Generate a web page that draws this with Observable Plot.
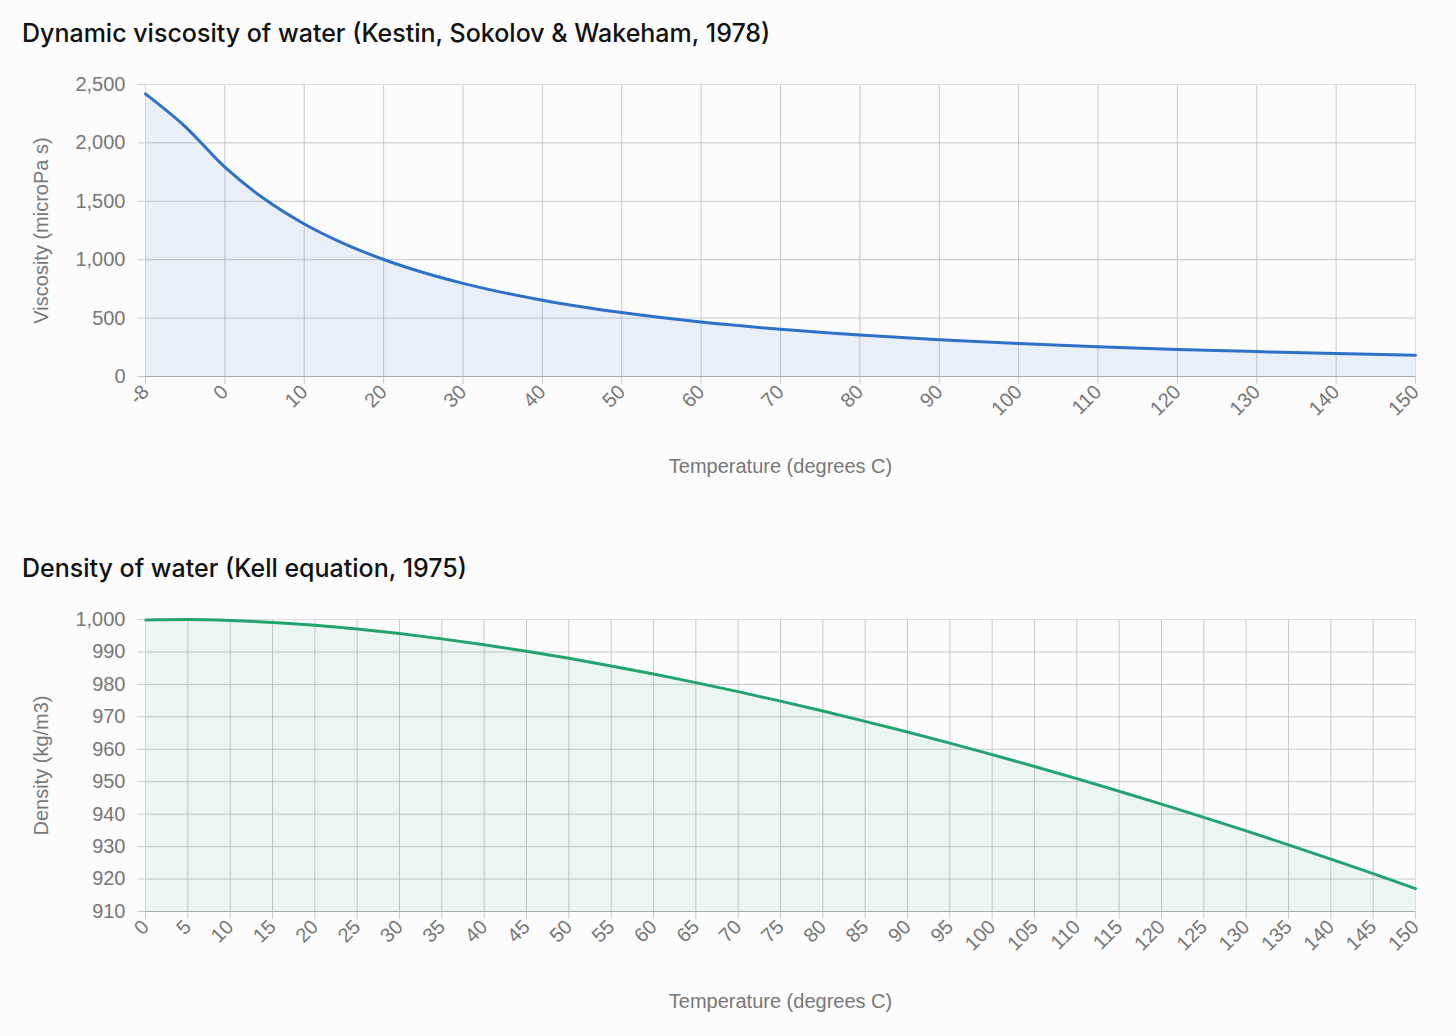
<!DOCTYPE html>
<html><head><meta charset="utf-8">
<script src="https://cdn.jsdelivr.net/npm/d3@7"></script>
<script src="https://cdn.jsdelivr.net/npm/@observablehq/plot@0.6"></script>
<style>
body{margin:0;background:#fcfcfc;width:1456px;height:1036px;position:relative;overflow:hidden}
.t{position:absolute;left:22px;font-family:Inter,"Noto Sans",sans-serif;font-size:25px;font-weight:500;color:#111}
.c{position:absolute;left:0}
svg text{font-size:18px}
svg g[aria-label$="label"] text{font-size:20px}
</style></head><body>
<div class="t" style="top:18px">Dynamic viscosity of water (Kestin, Sokolov &amp; Wakeham, 1978)</div>
<div class="c" id="c1" style="top:60px"></div>
<div class="t" style="top:553px">Density of water (Kell equation, 1975)</div>
<div class="c" id="c2" style="top:595px"></div>
<script>
const viscT = [-8,-4,0,5,10,15,20,25,30,40,50,60,70,80,90,100,110,120,130,140,150];
const viscV = [2420,2140,1792,1519,1306,1138,1002,890,797,653,547,466,404,355,315,282,255,232,213,196,182];
const viscTicks = [-8,0,10,20,30,40,50,60,70,80,90,100,110,120,130,140,150];
const densT = d3.range(0,151,5);
const densV = [999.84,999.97,999.70,999.10,998.21,997.05,995.65,994.03,992.22,990.21,988.04,985.69,983.20,980.55,977.76,974.84,971.79,968.61,965.31,961.89,958.35,954.70,950.95,947.08,943.11,939.03,934.84,930.55,926.16,921.66,917.06];

const idx = t => t < 0 ? (t + 8) / 8 : 1 + t / 10;
const font = "Liberation Sans, Arial, sans-serif";
const common = {width:1456, marginLeft:145, marginRight:41, marginTop:24,
  style:{fontFamily:font, fontSize:"18px", color:"#777", background:"transparent"}};
const gridC = "#bbb";

const v = viscT.map((t,i)=>({x:idx(t), y:viscV[i]}));
const p1 = Plot.plot({...common, height:440, marginBottom:124,
  x:{domain:[0,16]}, y:{domain:[0,2500]},
  marks:[
    Plot.gridX(viscTicks.map(idx),{stroke:gridC, strokeOpacity:0.8}),
    Plot.gridY(d3.range(0,2501,500),{stroke:gridC, strokeOpacity:0.8}),
    Plot.frame({stroke:"#ddd"}),
    Plot.areaY(v,{x:"x",y:"y",fill:"#2d72c9",fillOpacity:0.09,curve:"monotone-x"}),
    Plot.lineY(v,{x:"x",y:"y",stroke:"#2d72c9",strokeWidth:3,curve:"monotone-x"}),
    Plot.axisX({ticks:viscTicks.map(idx), tickFormat:d=>viscTicks[Math.round(d)], tickRotate:-45, tickSize:8, tickPadding:4, stroke:"#ccc", fill:"#777", fontSize:18, label:"Temperature (degrees C)", labelAnchor:"center", labelOffset:96, labelArrow:"none"}),
    Plot.axisY({ticks:d3.range(0,2501,500), tickFormat:d3.format(","), tickSize:8, tickPadding:12, stroke:"#ccc", fill:"#777", fontSize:18, label:"Viscosity (microPa s)", labelAnchor:"center", labelOffset:112, labelArrow:"none"}),
    Plot.ruleY([0],{stroke:"#aaa"})
  ]});
document.getElementById("c1").append(p1);

const d = densT.map((t,i)=>({x:t,y:densV[i]}));
const p2 = Plot.plot({...common, height:441, marginBottom:125,
  x:{domain:[0,150]}, y:{domain:[910,1000]},
  marks:[
    Plot.gridX(densT,{stroke:gridC, strokeOpacity:0.8}),
    Plot.gridY(d3.range(910,1001,10),{stroke:gridC, strokeOpacity:0.8}),
    Plot.frame({stroke:"#ddd"}),
    Plot.areaY(d,{x:"x",y1:910,y2:"y",fill:"#22a36f",fillOpacity:0.08,curve:"monotone-x"}),
    Plot.lineY(d,{x:"x",y:"y",stroke:"#22a36f",strokeWidth:3,curve:"monotone-x"}),
    Plot.axisX({ticks:densT, tickRotate:-45, tickSize:8, tickPadding:4, stroke:"#ccc", fill:"#777", fontSize:18, label:"Temperature (degrees C)", labelAnchor:"center", labelOffset:96, labelArrow:"none"}),
    Plot.axisY({ticks:d3.range(910,1001,10), tickFormat:d3.format(","), tickSize:8, tickPadding:12, stroke:"#ccc", fill:"#777", fontSize:18, label:"Density (kg/m3)", labelAnchor:"center", labelOffset:112, labelArrow:"none"}),
    Plot.ruleY([910],{stroke:"#aaa"})
  ]});
document.getElementById("c2").append(p2);
</script></body></html>
